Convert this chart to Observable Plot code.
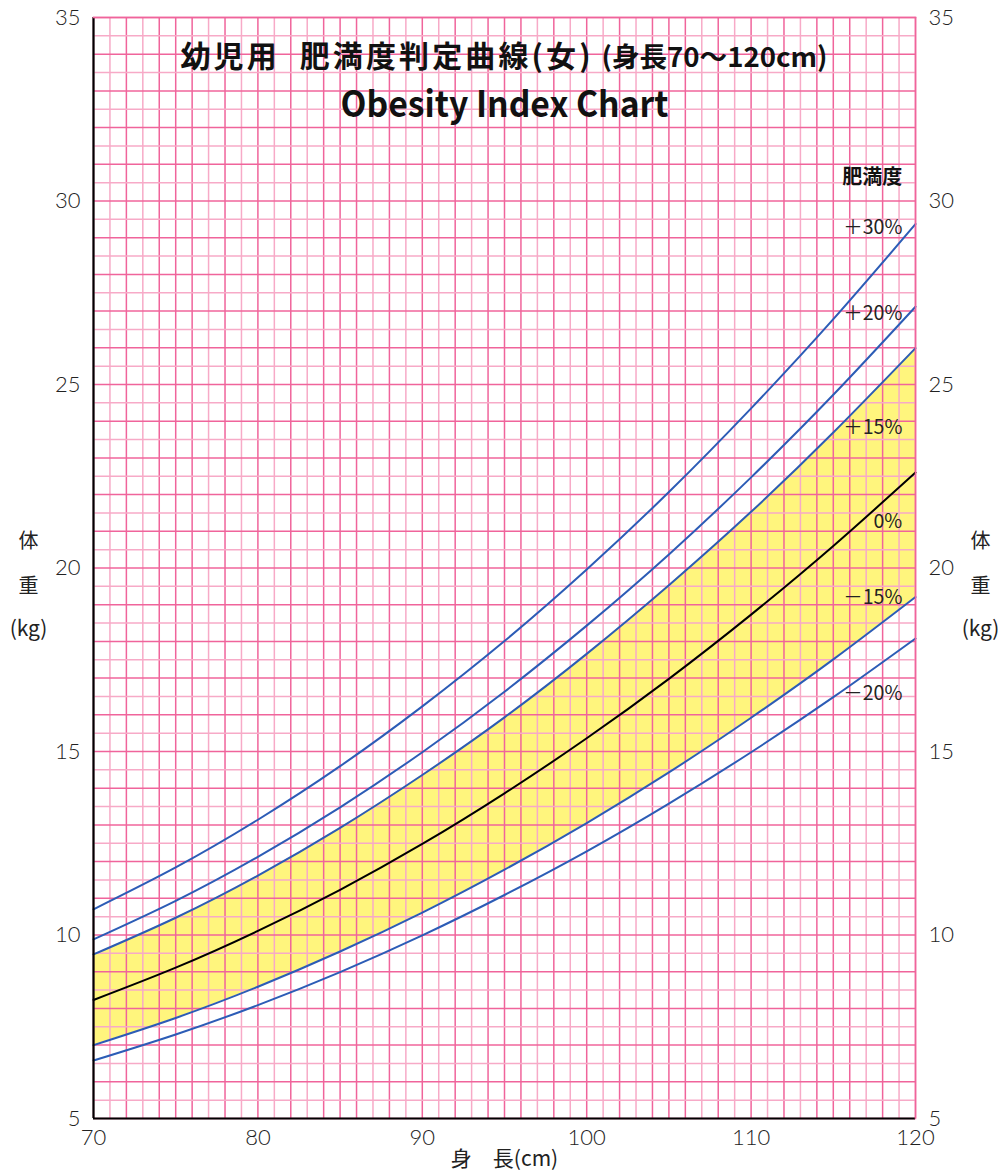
<!DOCTYPE html>
<html><head><meta charset="utf-8">
<script src="https://cdn.jsdelivr.net/npm/d3@7"></script>
<script src="https://cdn.jsdelivr.net/npm/@observablehq/plot@0.6"></script>
<style>
body{margin:0;background:#fff}
svg{font-family:"Noto Sans CJK JP","Noto Sans",sans-serif}
</style>
</head><body><div id="chart"></div>
<script>
const heights = [70, 75, 80, 85, 90, 95, 100, 105, 110, 115, 120];
// Weight (kg) for each obesity-degree curve
const wPlus30  = [10.70, 11.84, 13.14, 14.60, 16.23, 18.01, 19.96, 22.07, 24.35, 26.78, 29.37];
const wPlus20  = [ 9.88, 10.93, 12.13, 13.48, 14.98, 16.63, 18.43, 20.37, 22.47, 24.72, 27.12];
const wPlus15  = [ 9.47, 10.47, 11.62, 12.92, 14.36, 15.93, 17.66, 19.53, 21.53, 23.69, 25.99];
const wZero    = [ 8.23,  9.11, 10.11, 11.23, 12.48, 13.86, 15.36, 16.98, 18.73, 20.60, 22.60];
const wMinus15 = [ 7.00,  7.74,  8.59,  9.55, 10.61, 11.78, 13.05, 14.43, 15.92, 17.51, 19.21];
const wMinus20 = [ 6.58,  7.29,  8.09,  8.99,  9.99, 11.09, 12.28, 13.58, 14.98, 16.48, 18.08];

const curveNames  = ["+30%", "+20%", "+15%", "0%", "-15%", "-20%"];
const curveLabels = ["＋30%", "＋20%", "＋15%", "0%", "－15%", "－20%"];
const labelY      = [29.27, 26.93, 23.83, 21.27, 19.20, 16.58];

const xTicks = [70, 80, 90, 100, 110, 120];
const yTicks = [5, 10, 15, 20, 25, 30, 35];
const xGrid = [70,71,72,73,74,75,76,77,78,79,80,81,82,83,84,85,86,87,88,89,90,91,92,93,94,95,96,97,98,99,100,101,102,103,104,105,106,107,108,109,110,111,112,113,114,115,116,117,118,119,120];
const yGrid = [5,5.5,6,6.5,7,7.5,8,8.5,9,9.5,10,10.5,11,11.5,12,12.5,13,13.5,14,14.5,15,15.5,16,16.5,17,17.5,18,18.5,19,19.5,20,20.5,21,21.5,22,22.5,23,23.5,24,24.5,25,25.5,26,26.5,27,27.5,28,28.5,29,29.5,30,30.5,31,31.5,32,32.5,33,33.5,34,34.5,35];

const titleMain = "幼児用  肥満度判定曲線(女)";
const titleSub  = "(身長70～120cm)";
const titleEn   = "Obesity Index Chart";
const yTitle    = ["体", "重", "(kg)"];
const xTitle    = "身　長(cm)";
const legendTitle = "肥満度";

const series = [wPlus30, wPlus20, wPlus15, wZero, wMinus15, wMinus20];
const lineRows = [];
series.forEach((ws, i) => ws.forEach((w, j) => lineRows.push({h: heights[j], w, s: curveNames[i]})));
const bandRows = heights.map((h, j) => ({h, lo: wMinus15[j], hi: wPlus15[j]}));
const labelRows = curveLabels.map((t, i) => ({t, y: labelY[i]}));

const DARK = "#f0649b", LIGHT = "#f7aac7", BLUE = "#2c5cb6";
const gridColorX = d => (d % 5 === 0 || d % 2 === 0) ? DARK : LIGHT;
const gridColorY = d => (Number.isInteger(d)) ? DARK : LIGHT;
const TICKFONT = 'Lato, "Noto Sans", sans-serif';

const yTitleDy = [-26, 19, 61];
const yTitleMarks = [];
yTitle.forEach((t, i) => {
  yTitleMarks.push(Plot.text([t], {frameAnchor: "left", dx: -65, dy: yTitleDy[i], textAnchor: "middle", fontSize: i === 2 ? 21 : 20, fill: "#222", lineAnchor: "middle"}));
  yTitleMarks.push(Plot.text([t], {frameAnchor: "right", dx: 65, dy: yTitleDy[i], textAnchor: "middle", fontSize: i === 2 ? 21 : 20, fill: "#222", lineAnchor: "middle"}));
});

const chart = Plot.plot({
  width: 1003, height: 1172,
  marginLeft: 93, marginRight: 88, marginTop: 17, marginBottom: 54,
  style: {fontFamily: '"Noto Sans CJK JP", sans-serif', fontSize: "21px", color: "#222", background: "#fff"},
  x: {domain: [70, 120]},
  y: {domain: [5, 35]},
  marks: [
    Plot.areaY(bandRows, {x: "h", y1: "lo", y2: "hi", fill: "#fff57d", curve: "natural"}),
    Plot.ruleX(xGrid, {stroke: gridColorX, strokeWidth: 1.5}),
    Plot.ruleY(yGrid, {stroke: gridColorY, strokeWidth: 1.5}),
    Plot.line(lineRows, {x: "h", y: "w", z: "s", stroke: d => d.s === "0%" ? "#000" : BLUE, strokeWidth: 2, curve: "natural"}),
    Plot.ruleX([70], {stroke: "#000", strokeWidth: 2.2}),
    Plot.ruleY([5], {stroke: "#000", strokeWidth: 2.2}),
    Plot.axisX(xTicks, {tickSize: 0, tickPadding: 11, label: null, fontSize: 22, fontWeight: 300, fontFamily: TICKFONT, fill: "#222"}),
    Plot.axisY(yTicks, {anchor: "left", tickSize: 0, tickPadding: 13, label: null, fontSize: 22, fontWeight: 300, fontFamily: TICKFONT, fill: "#222"}),
    Plot.axisY(yTicks, {anchor: "right", tickSize: 0, tickPadding: 13, label: null, fontSize: 22, fontWeight: 300, fontFamily: TICKFONT, fill: "#222"}),
    // curve labels
    Plot.text(labelRows, {x: 119.2, y: "y", text: "t", textAnchor: "end", fontSize: 19.5, fill: "#222"}),
    Plot.text([legendTitle], {x: 119.2, y: 30.64, textAnchor: "end", fontSize: 20, fontWeight: "bold", fill: "#111"}),
    // titles
    Plot.text([titleMain], {frameAnchor: "top-left", dx: 87, dy: 40, textAnchor: "start", lineAnchor: "middle", fontSize: 30, fontWeight: "bold", fill: "#111", className: "t-main"}),
    Plot.text([titleSub], {frameAnchor: "top-left", dx: 508, dy: 41, textAnchor: "start", lineAnchor: "middle", fontSize: 27, fontWeight: "bold", fill: "#111", className: "t-sub"}),
    Plot.text([titleEn], {frameAnchor: "top", dx: 0, dy: 88, lineAnchor: "middle", fontSize: 36, fontWeight: "bold", fill: "#111", className: "t-en"}),
    // axis titles
    ...yTitleMarks,
    Plot.text([xTitle], {frameAnchor: "bottom", dy: 41, lineAnchor: "middle", fontSize: 21, fill: "#222"}),
    Plot.frame({stroke: DARK, strokeWidth: 1.5, anchor: "top"}),
    Plot.frame({stroke: DARK, strokeWidth: 1.5, anchor: "right"})
  ]
});
document.getElementById("chart").appendChild(chart);
// fit title widths to the reference
const fit = (cls, len, mode) => d3.select(chart).selectAll(`g.${cls} text`).attr("textLength", len).attr("lengthAdjust", mode).style("white-space", "pre");
fit("t-main", 410, "spacing");
fit("t-sub", 226, "spacingAndGlyphs");
fit("t-en", 328, "spacingAndGlyphs");
</script>
</body></html>
